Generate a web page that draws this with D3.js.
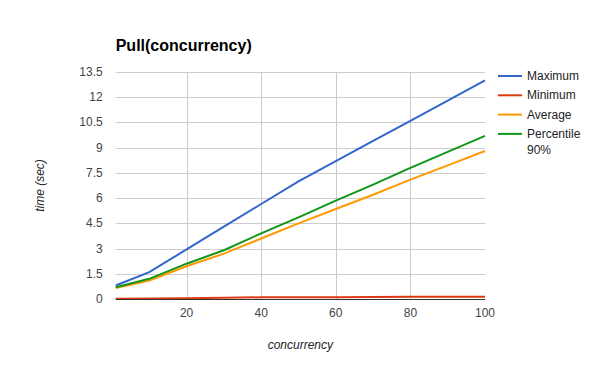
<!DOCTYPE html>
<html>
<head>
<meta charset="utf-8">
<script src="https://cdn.jsdelivr.net/npm/d3@7"></script>
<style>
  body { margin: 0; background: #fff; }
  text { font-family: Arial, "Liberation Sans", sans-serif; }
</style>
</head>
<body>
<div id="chart"></div>
<script>
//Data
const concurrency = [1, 10, 20, 30, 40, 50, 60, 70, 80, 90, 100];
const maximum = [0.8, 1.6, 2.95, 4.3, 5.65, 7.0, 8.2, 9.4, 10.6, 11.8, 13.0];
const minimum = [0.02, 0.03, 0.05, 0.08, 0.1, 0.11, 0.11, 0.12, 0.13, 0.13, 0.13];
const average = [0.65, 1.1, 1.95, 2.7, 3.6, 4.5, 5.35, 6.2, 7.1, 7.95, 8.8];
const percentile90 = [0.7, 1.2, 2.1, 2.9, 3.9, 4.85, 5.85, 6.8, 7.8, 8.75, 9.7];
const xTicks = [20, 40, 60, 80, 100];
const yTicks = [0, 1.5, 3, 4.5, 6, 7.5, 9, 10.5, 12, 13.5];

const series = [
    {name: 'Maximum', values: maximum, colour: '#3366cc'},
    {name: 'Minimum', values: minimum, colour: '#dc3912'},
    {name: 'Average', values: average, colour: '#ff9900'},
    {name: 'Percentile 90%', values: percentile90, colour: '#109618'}
];

const WIDTH = 600;
const HEIGHT = 371;
const LEFT = 115.7;
const RIGHT = 485;
const TOP = 72;
const BOTTOM = 299;

let svg = d3.select('#chart')
.append('svg')
.attr('width', WIDTH)
.attr('height', HEIGHT);

const xScale = d3.scaleLinear().domain([1, 100]).range([LEFT, RIGHT]);
const yScale = d3.scaleLinear().domain([0, 13.5]).range([BOTTOM, TOP]);

//Gridlines
svg.append('g')
.selectAll()
.data(yTicks.filter(d => d > 0))
.enter()
.append('line')
.attr('x1', LEFT).attr('x2', RIGHT)
.attr('y1', d => Math.round(yScale(d)) + 0.5)
.attr('y2', d => Math.round(yScale(d)) + 0.5)
.style('stroke', '#cccccc');

svg.append('g')
.selectAll()
.data(xTicks.filter(d => d < 100))
.enter()
.append('line')
.attr('x1', d => Math.round(xScale(d)) + 0.5)
.attr('x2', d => Math.round(xScale(d)) + 0.5)
.attr('y1', TOP).attr('y2', BOTTOM)
.style('stroke', '#cccccc');

//Tick labels
svg.append('g')
.selectAll()
.data(yTicks)
.enter()
.append('text')
.attr('x', LEFT - 13)
.attr('y', d => yScale(d) + 4)
.attr('text-anchor', 'end')
.style('font-size', '12px')
.style('fill', '#444')
.text(d => d);

svg.append('g')
.selectAll()
.data(xTicks)
.enter()
.append('text')
.attr('x', d => xScale(d))
.attr('y', BOTTOM + 18)
.attr('text-anchor', 'middle')
.style('font-size', '12px')
.style('fill', '#444')
.text(d => d);

//Lines
const line = d3.line()
.x((d, i) => xScale(concurrency[i]))
.y(d => yScale(d));

svg.append('g')
.selectAll()
.data(series)
.enter()
.append('path')
.attr('d', d => line(d.values))
.style('fill', 'none')
.style('stroke', d => d.colour)
.style('stroke-width', 2);

//Baseline
svg.append('line')
.attr('x1', LEFT).attr('x2', RIGHT)
.attr('y1', BOTTOM + 0.5).attr('y2', BOTTOM + 0.5)
.style('stroke', '#333');

//Title and axis titles
svg.append('text')
.attr('x', LEFT)
.attr('y', 51)
.style('font-size', '16px')
.style('font-weight', 'bold')
.style('fill', '#000')
.text('Pull(concurrency)');

svg.append('text')
.attr('transform', 'translate(44,' + ((TOP + BOTTOM) / 2) + ') rotate(-90)')
.attr('text-anchor', 'middle')
.style('font-size', '12px')
.style('font-style', 'italic')
.style('fill', '#222')
.text('time (sec)');

svg.append('text')
.attr('x', (LEFT + RIGHT) / 2)
.attr('y', 349)
.attr('text-anchor', 'middle')
.style('font-size', '12px')
.style('font-style', 'italic')
.style('fill', '#222')
.text('concurrency');

//Legend
let legend = svg.append('g')
.selectAll()
.data(series)
.enter()
.append('g')
.attr('transform', (d, i) => 'translate(498,' + (76 + i * 19.3) + ')');

legend.append('line')
.attr('x1', 0).attr('x2', 24)
.attr('y1', 0).attr('y2', 0)
.style('stroke', d => d.colour)
.style('stroke-width', 2);

legend.append('text')
.attr('x', 29)
.attr('y', 4)
.style('font-size', '12px')
.style('fill', '#222')
.each(function(d) {
    let words = d.name.split(' ');
    d3.select(this).selectAll('tspan')
    .data(words)
    .enter()
    .append('tspan')
    .attr('x', 29)
    .attr('dy', (w, i) => i === 0 ? 0 : 16)
    .text(w => w);
});
</script>
</body>
</html>
